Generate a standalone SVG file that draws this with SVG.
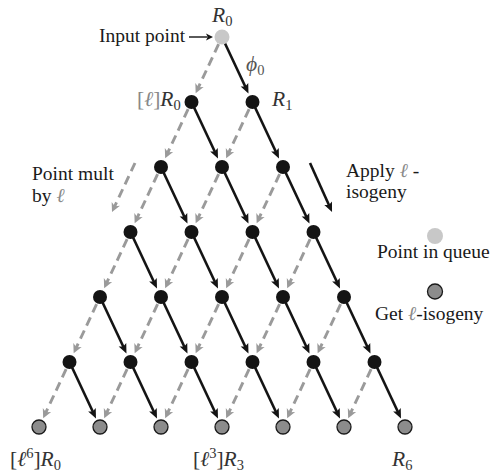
<svg xmlns="http://www.w3.org/2000/svg" xmlns:xlink="http://www.w3.org/1999/xlink" width="491" height="472" viewBox="0 0 491 472">
<style>
.bk{fill:none;stroke:#141414;stroke-width:2.6}
.gd{fill:none;stroke:#9a9a9a;stroke-width:2.9;stroke-dasharray:9 5.5}
.n{fill:#141414}
.q{fill:#c8c8c8}
.o{fill:#8c8c8c;stroke:#1a1a1a;stroke-width:1.3}
.t{font-family:"Liberation Serif","Times New Roman",serif;font-size:19.5px;fill:#1a1a1a}
.m{font-family:"Liberation Serif","Times New Roman",serif;font-size:21.5px;font-style:italic;fill:#333}
.s{font-size:14.5px;font-style:normal}
.lg{fill:#8a8a8a;font-style:italic}
</style>
<defs>
<marker id="ab" markerUnits="userSpaceOnUse" orient="auto" refX="0" refY="0" markerWidth="20" markerHeight="20" overflow="visible"><path d="M4,0 L-5.5,-4.2 L-3.5,0 L-5.5,4.2 Z" fill="#141414"/></marker>
<marker id="ag" markerUnits="userSpaceOnUse" orient="auto" refX="0" refY="0" markerWidth="20" markerHeight="20" overflow="visible"><path d="M4,0 L-5,-4.6 L-2.5,0 L-5,4.6 Z" fill="#9a9a9a"/></marker>
<g id="pr"><path class="gd" d="M-3.40,7.24 L-24.64,52.51" marker-end="url(#ag)"/><path class="bk" d="M0,0 L24.77,52.78" marker-end="url(#ab)"/></g>
</defs>
<g id="connectors">
<use href="#pr" x="222" y="37"/>
<use href="#pr" x="191.5" y="102"/><use href="#pr" x="252.5" y="102"/>
<use href="#pr" x="161" y="167"/><use href="#pr" x="222" y="167"/><use href="#pr" x="283" y="167"/>
<use href="#pr" x="130.5" y="232"/><use href="#pr" x="191.5" y="232"/><use href="#pr" x="252.5" y="232"/><use href="#pr" x="313.5" y="232"/>
<use href="#pr" x="100" y="297"/><use href="#pr" x="161" y="297"/><use href="#pr" x="222" y="297"/><use href="#pr" x="283" y="297"/><use href="#pr" x="344" y="297"/>
<use href="#pr" x="69.5" y="362"/><use href="#pr" x="130.5" y="362"/><use href="#pr" x="191.5" y="362"/><use href="#pr" x="252.5" y="362"/><use href="#pr" x="313.5" y="362"/><use href="#pr" x="374.5" y="362"/>
<path class="gd" d="M135,163 L113.7,208.4" marker-end="url(#ag)"/>
<path class="bk" d="M310,163 L330.4,208.3" marker-end="url(#ab)"/>
<path d="M189,37 L207.5,37" stroke="#141414" stroke-width="1.4"/>
<path d="M213,37 L206,33.5 L207.7,37 L206,40.5 Z" fill="#141414"/>
</g>
<g id="n-0-0"><circle class="q" cx="222" cy="37" r="7.5"/></g>
<g id="n-1-0"><circle class="n" cx="191.5" cy="102" r="7"/></g>
<g id="n-1-1"><circle class="n" cx="252.5" cy="102" r="7"/></g>
<g id="n-2-0"><circle class="n" cx="161" cy="167" r="7"/></g>
<g id="n-2-1"><circle class="n" cx="222" cy="167" r="7"/></g>
<g id="n-2-2"><circle class="n" cx="283" cy="167" r="7"/></g>
<g id="n-3-0"><circle class="n" cx="130.5" cy="232" r="7"/></g>
<g id="n-3-1"><circle class="n" cx="191.5" cy="232" r="7"/></g>
<g id="n-3-2"><circle class="n" cx="252.5" cy="232" r="7"/></g>
<g id="n-3-3"><circle class="n" cx="313.5" cy="232" r="7"/></g>
<g id="n-4-0"><circle class="n" cx="100" cy="297" r="7"/></g>
<g id="n-4-1"><circle class="n" cx="161" cy="297" r="7"/></g>
<g id="n-4-2"><circle class="n" cx="222" cy="297" r="7"/></g>
<g id="n-4-3"><circle class="n" cx="283" cy="297" r="7"/></g>
<g id="n-4-4"><circle class="n" cx="344" cy="297" r="7"/></g>
<g id="n-5-0"><circle class="n" cx="69.5" cy="362" r="7"/></g>
<g id="n-5-1"><circle class="n" cx="130.5" cy="362" r="7"/></g>
<g id="n-5-2"><circle class="n" cx="191.5" cy="362" r="7"/></g>
<g id="n-5-3"><circle class="n" cx="252.5" cy="362" r="7"/></g>
<g id="n-5-4"><circle class="n" cx="313.5" cy="362" r="7"/></g>
<g id="n-5-5"><circle class="n" cx="374.5" cy="362" r="7"/></g>
<g id="n-6-0"><circle class="o" cx="39" cy="427" r="7"/></g>
<g id="n-6-1"><circle class="o" cx="100" cy="427" r="7"/></g>
<g id="n-6-2"><circle class="o" cx="161" cy="427" r="7"/></g>
<g id="n-6-3"><circle class="o" cx="222" cy="427" r="7"/></g>
<g id="n-6-4"><circle class="o" cx="283" cy="427" r="7"/></g>
<g id="n-6-5"><circle class="o" cx="344" cy="427" r="7"/></g>
<g id="n-6-6"><circle class="o" cx="405" cy="427" r="7"/></g>
<g id="labels">
<text class="m" x="212" y="22">R<tspan class="s" dy="4">0</tspan></text>
<text class="t" x="99" y="42">Input point</text>
<text class="m" x="246" y="71" style="fill:#555">ϕ<tspan class="s" dy="4">0</tspan></text>
<text class="m" x="137" y="106"><tspan style="fill:#888;font-style:normal">[</tspan><tspan style="fill:#888">ℓ</tspan><tspan style="fill:#888;font-style:normal">]</tspan>R<tspan class="s" dy="4">0</tspan></text>
<text class="m" x="272" y="106">R<tspan class="s" dy="4">1</tspan></text>
<text class="t" x="32" y="180">Point mult</text>
<text class="t" x="32" y="202">by <tspan class="lg">ℓ</tspan></text>
<text class="t" x="346" y="177">Apply <tspan class="lg">ℓ</tspan> -</text>
<text class="t" x="346" y="198">isogeny</text>
<circle class="q" cx="435" cy="236" r="8"/>
<text class="t" x="377" y="258">Point in queue</text>
<circle class="o" cx="435" cy="291.5" r="7.5"/>
<text class="t" x="375" y="320">Get <tspan class="lg">ℓ</tspan>-isogeny</text>
<text class="m" x="10" y="466"><tspan style="font-style:normal">[</tspan>ℓ<tspan class="s" dy="-8">6</tspan><tspan style="font-style:normal" dy="8">]</tspan>R<tspan class="s" dy="4">0</tspan></text>
<text class="m" x="193" y="466"><tspan style="font-style:normal">[</tspan>ℓ<tspan class="s" dy="-8">3</tspan><tspan style="font-style:normal" dy="8">]</tspan>R<tspan class="s" dy="4">3</tspan></text>
<text class="m" x="392" y="466">R<tspan class="s" dy="4">6</tspan></text>
</g>
</svg>
